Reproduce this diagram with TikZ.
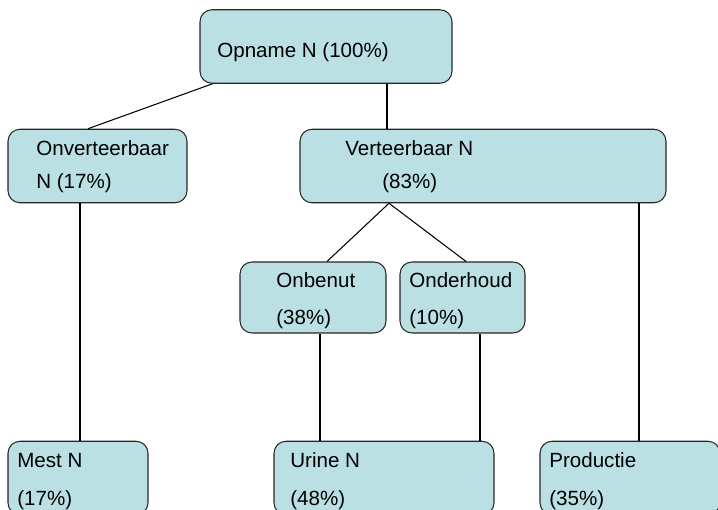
\documentclass[tikz,border=0pt]{standalone}
\usepackage{fontspec}
\setmainfont{Liberation Sans}
\definecolor{boxfill}{RGB}{187,224,228}
\begin{document}
\begin{tikzpicture}[
    box/.style={draw=black!85, line width=0.6pt, rounded corners=0.24cm, fill=boxfill, minimum width=#1, minimum height=1.47cm, inner sep=0pt},
    txt/.style={anchor=base west, inner sep=0pt, font=\fontsize{11.7}{14}\selectfont},
    link/.style={draw=black, line width=0.6pt}
]
    \useasboundingbox (0,0) rectangle (14.36,10.18);

    % Boxes
    \node[box=5.04cm] (opname) at (6.52,9.25) {};
    \node[box=3.58cm] (onverteerbaar) at (1.95,6.86) {};
    \node[box=7.32cm] (verteerbaar) at (9.66,6.86) {};
    \node[box=2.92cm, minimum height=1.42cm] (onbenut) at (6.26,4.23) {};
    \node[box=2.50cm, minimum height=1.42cm] (onderhoud) at (9.25,4.23) {};
    \node[box=2.80cm] (mest) at (1.56,0.62) {};
    \node[box=4.40cm] (urine) at (7.68,0.62) {};
    \node[box=3.60cm] (productie) at (12.60,0.62) {};

    % Labels
    \node[txt] (l-opname) at (4.34,9.04) {Opname N (100\%)};
    \node[txt] (l-onv1) at (0.72,7.08) {Onverteerbaar};
    \node[txt] (l-onv2) at (0.72,6.42) {N (17\%)};
    \node[txt] (l-ver1) at (6.90,7.08) {Verteerbaar N};
    \node[txt] (l-ver2) at (7.64,6.42) {(83\%)};
    \node[txt] (l-onb1) at (5.52,4.44) {Onbenut};
    \node[txt] (l-onb2) at (5.52,3.70) {(38\%)};
    \node[txt] (l-ond1) at (8.18,4.44) {Onderhoud};
    \node[txt] (l-ond2) at (8.18,3.70) {(10\%)};
    \node[txt] (l-mest1) at (0.34,0.84) {Mest N};
    \node[txt] (l-mest2) at (0.34,0.08) {(17\%)};
    \node[txt] (l-uri1) at (5.80,0.84) {Urine N};
    \node[txt] (l-uri2) at (5.80,0.08) {(48\%)};
    \node[txt] (l-prod1) at (10.98,0.84) {Productie};
    \node[txt] (l-prod2) at (10.98,0.08) {(35\%)};

    % Connectors
    \draw[link] ([xshift=0.26cm]opname.south west) -- ([xshift=-0.19cm]onverteerbaar.north);
    \coordinate (ov) at ([xshift=1.22cm]opname.south);
    \draw[link] (ov) -- (ov |- verteerbaar.north);
    \coordinate (om) at ([xshift=-0.35cm]onverteerbaar.south);
    \draw[link] (om) -- (om |- mest.north);
    \coordinate (vo) at ([xshift=-1.88cm]verteerbaar.south);
    \draw[link] (vo) -- ([xshift=0.28cm]onbenut.north);
    \draw[link] (vo) -- ([xshift=0.07cm]onderhoud.north);
    \coordinate (vp) at ([xshift=3.12cm]verteerbaar.south);
    \draw[link] (vp) -- (vp |- productie.north);
    \coordinate (bu) at ([xshift=0.14cm]onbenut.south);
    \draw[link] (bu) -- (bu |- urine.north);
    \coordinate (du) at ([xshift=0.35cm]onderhoud.south);
    \draw[link] (du) -- (du |- urine.north);
\end{tikzpicture}
\end{document}
